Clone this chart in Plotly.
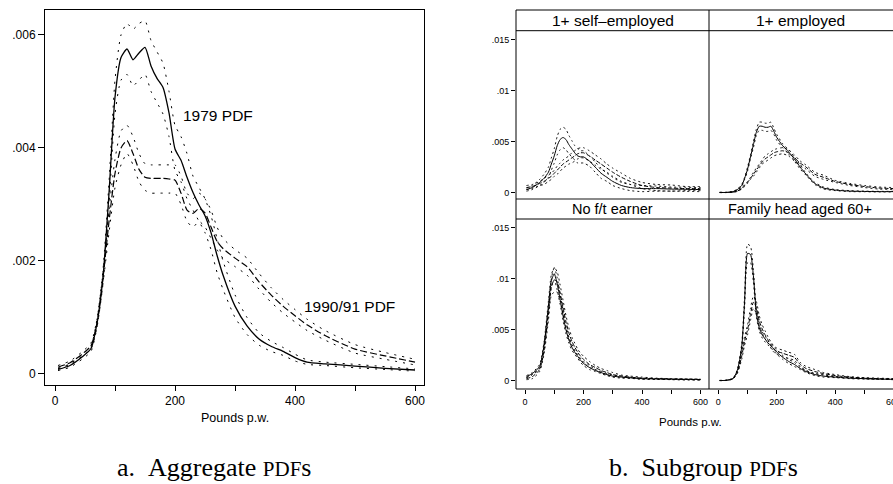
import plotly.graph_objects as go

W, H = 893, 484
def px(x): return x / W
def py(y): return 1 - y / H

# ---------------- a. Aggregate PDFs ----------------
x_agg = [5, 25, 45, 60, 70, 80, 90, 100, 110, 120, 130, 140, 150, 160, 170, 180, 190, 200, 210, 220,
         230, 240, 250, 260, 270, 280, 300, 320, 340, 360, 380, 400, 420, 450, 500, 550, 600]
pdf79 = [0.00008, 0.00015, 0.0003, 0.00045, 0.0009, 0.00172, 0.0032, 0.0049, 0.0056, 0.00575, 0.00556,
         0.00568, 0.00578, 0.00545, 0.00523, 0.00507, 0.00462, 0.00398, 0.00378, 0.00348, 0.00321, 0.00299,
         0.0028, 0.0025, 0.0021, 0.00175, 0.0012, 0.00085, 0.00062, 0.00049, 0.0004, 0.00029, 0.00021,
         0.00018, 0.00014, 0.0001, 0.00007]
pdf79_hi = [0.0001, 0.00018, 0.00034, 0.0005, 0.00097, 0.00185, 0.0034, 0.0052, 0.006, 0.0062, 0.0061,
            0.0062, 0.00625, 0.0059, 0.0057, 0.0055, 0.005, 0.0044, 0.0042, 0.0039, 0.0035, 0.0033, 0.0031,
            0.0028, 0.0024, 0.002, 0.0014, 0.001, 0.00073, 0.00058, 0.00047, 0.00035, 0.00025, 0.00021,
            0.00017, 0.00013, 0.00009]
pdf79_lo = [0.00006, 0.00012, 0.00026, 0.0004, 0.00083, 0.0016, 0.003, 0.0046, 0.0052, 0.0053, 0.0051,
            0.0052, 0.0053, 0.005, 0.0048, 0.0046, 0.0042, 0.0036, 0.0034, 0.0031, 0.0029, 0.0027, 0.0025,
            0.0022, 0.0018, 0.0015, 0.001, 0.0007, 0.00051, 0.0004, 0.00033, 0.00023, 0.00017, 0.00015,
            0.00011, 0.00008, 0.00005]
pdf90 = [0.00012, 0.0002, 0.00035, 0.0005, 0.0009, 0.0017, 0.0027, 0.00355, 0.004, 0.00413, 0.0039,
         0.00362, 0.00348, 0.00346, 0.00346, 0.00346, 0.00345, 0.00343, 0.0032, 0.0029, 0.00284, 0.00293,
         0.00285, 0.0026, 0.00235, 0.00222, 0.00205, 0.0019, 0.00163, 0.0014, 0.0012, 0.00103, 0.00087,
         0.00068, 0.00044, 0.00032, 0.00021]
pdf90_hi = [0.00015, 0.00023, 0.00039, 0.00055, 0.00097, 0.0018, 0.0029, 0.0038, 0.0043, 0.0044, 0.0042,
            0.0039, 0.00372, 0.0037, 0.0037, 0.0037, 0.0037, 0.0037, 0.0035, 0.0032, 0.0031, 0.0032, 0.0031,
            0.0029, 0.0026, 0.0024, 0.0022, 0.00205, 0.00178, 0.00153, 0.00132, 0.00114, 0.00097, 0.00077,
            0.00052, 0.00038, 0.00026]
pdf90_lo = [0.00009, 0.00017, 0.00031, 0.00045, 0.00083, 0.0016, 0.0025, 0.0033, 0.0037, 0.0039, 0.0037,
            0.0034, 0.00325, 0.0032, 0.0032, 0.0032, 0.0032, 0.0032, 0.003, 0.0027, 0.0026, 0.0027, 0.0026,
            0.0024, 0.0022, 0.00205, 0.0019, 0.00175, 0.0015, 0.00127, 0.00108, 0.00092, 0.00077, 0.0006,
            0.00037, 0.00026, 0.00016]

# ---------------- b. Subgroup PDFs ----------------
x_sub = [5, 25, 50, 65, 80, 90, 100, 110, 120, 130, 140, 150, 160, 170, 180, 190, 200, 220, 240, 260,
         280, 300, 330, 360, 400, 450, 500, 550, 600]
# 1+ self-employed
se79 = [0.0003, 0.0005, 0.001, 0.0014, 0.002, 0.0028, 0.0036, 0.0046, 0.0052, 0.0054, 0.0052, 0.0047,
        0.0043, 0.0039, 0.0036, 0.0035, 0.0035, 0.0031, 0.0025, 0.0019, 0.0015, 0.0011, 0.0007, 0.0005,
        0.0004, 0.0004, 0.00035, 0.00033, 0.0003]
se79_band = [0.00015, 0.0002, 0.0003, 0.0004, 0.0005, 0.0006, 0.0007, 0.0009, 0.001, 0.001, 0.001, 0.0009,
             0.0008, 0.0007, 0.0007, 0.0006, 0.0006, 0.0005, 0.0005, 0.0005, 0.0004, 0.0004, 0.0003, 0.0003,
             0.0003, 0.00025, 0.0002, 0.0002, 0.0002]
se90 = [0.0005, 0.0006, 0.0009, 0.0011, 0.0014, 0.0016, 0.0019, 0.0022, 0.0025, 0.0028, 0.003, 0.0032,
        0.0034, 0.0036, 0.0038, 0.0039, 0.0039, 0.0036, 0.0032, 0.0028, 0.0024, 0.002, 0.0015, 0.0011,
        0.0007, 0.0005, 0.00045, 0.0004, 0.0004]
se90_band = [0.0002, 0.0002, 0.0002, 0.0003, 0.0003, 0.0003, 0.0003, 0.0004, 0.0004, 0.0004, 0.0004, 0.0004,
             0.0005, 0.0005, 0.0005, 0.0005, 0.0005, 0.0005, 0.0005, 0.0005, 0.0004, 0.0004, 0.0004, 0.0003,
             0.0003, 0.0003, 0.0003, 0.0002, 0.0002]
# 1+ employed
em79 = [0.00002, 0.00002, 0.0001, 0.0003, 0.0007, 0.0014, 0.0023, 0.0035, 0.0047, 0.0059, 0.0065, 0.0065,
        0.0064, 0.0064, 0.0065, 0.006, 0.0054, 0.0046, 0.004, 0.0033, 0.0025, 0.0018, 0.0009, 0.00045,
        0.00025, 0.00015, 0.00012, 0.0001, 0.0001]
em79_band = [0.00001, 0.00001, 0.00002, 0.00005, 0.0001, 0.0001, 0.0002, 0.0002, 0.0003, 0.0003, 0.0004,
             0.0004, 0.0004, 0.0004, 0.0004, 0.0003, 0.0003, 0.0002, 0.0002, 0.0002, 0.0002, 0.0001, 0.0001,
             0.0001, 0.00005, 0.00005, 0.00003, 0.00003, 0.00003]
em90 = [0.00002, 0.00002, 0.00005, 0.00015, 0.0004, 0.0007, 0.001, 0.0014, 0.0018, 0.0022, 0.0026, 0.003,
        0.0033, 0.0035, 0.0037, 0.0039, 0.004, 0.0041, 0.0039, 0.0034, 0.0029, 0.0025, 0.0018, 0.0015,
        0.0011, 0.0008, 0.0006, 0.00045, 0.0004]
em90_band = [0.00001, 0.00001, 0.00002, 0.00003, 0.00005, 0.0001, 0.0001, 0.0001, 0.0002, 0.0002, 0.0002,
             0.0002, 0.0003, 0.0003, 0.0003, 0.0003, 0.0003, 0.0003, 0.0003, 0.0003, 0.0002, 0.0002, 0.0002,
             0.0002, 0.0001, 0.0001, 0.0001, 0.0001, 0.0001]
# No f/t earner
nf79 = [0.0004, 0.0007, 0.0014, 0.0035, 0.0073, 0.0098, 0.0105, 0.0095, 0.008, 0.0064, 0.005, 0.004,
        0.0033, 0.0028, 0.0024, 0.002, 0.0017, 0.0013, 0.001, 0.0008, 0.0006, 0.00045, 0.00035, 0.00028,
        0.0002, 0.00017, 0.00015, 0.00014, 0.00012]
nf79_band = [0.0001, 0.0001, 0.0002, 0.0003, 0.0005, 0.0006, 0.0006, 0.0006, 0.0005, 0.0005, 0.0004, 0.0003,
             0.0003, 0.0002, 0.0002, 0.0002, 0.0002, 0.0002, 0.0001, 0.0001, 0.0001, 0.0001, 0.0001, 0.00005,
             0.00005, 0.00005, 0.00003, 0.00003, 0.00003]
nf90 = [0.0002, 0.0004, 0.0011, 0.003, 0.0065, 0.0092, 0.0099, 0.0097, 0.0086, 0.0072, 0.0058, 0.0047,
        0.0039, 0.0033, 0.0028, 0.0024, 0.0021, 0.0016, 0.0013, 0.001, 0.0008, 0.0006, 0.00045, 0.00035,
        0.00025, 0.0002, 0.00015, 0.00012, 0.0001]
nf90_band = [0.0001, 0.0002, 0.0002, 0.0004, 0.0006, 0.0008, 0.0012, 0.001, 0.0008, 0.0007, 0.0006, 0.0005,
             0.0004, 0.0004, 0.0003, 0.0003, 0.0003, 0.0003, 0.0002, 0.0002, 0.0002, 0.0002, 0.0001, 0.0001,
             0.0001, 0.00005, 0.00005, 0.00005, 0.00005]
# Family head aged 60+
fh79 = [0.00002, 0.00003, 0.0002, 0.001, 0.0033, 0.0078, 0.0125, 0.0124, 0.0103, 0.0067, 0.0052, 0.0045,
        0.0041, 0.0037, 0.0034, 0.0031, 0.0028, 0.0023, 0.0019, 0.0016, 0.0012, 0.0009, 0.0006, 0.00045,
        0.00035, 0.00025, 0.0002, 0.00016, 0.00014]
fh79_band = [0.00001, 0.00001, 0.00003, 0.0001, 0.0003, 0.0006, 0.0009, 0.0008, 0.0006, 0.0004, 0.0003,
             0.0003, 0.0003, 0.0002, 0.0002, 0.0002, 0.0002, 0.0002, 0.0002, 0.0002, 0.0001, 0.0001, 0.0001,
             0.0001, 0.00005, 0.00005, 0.00005, 0.00003, 0.00003]
fh90 = [0.00002, 0.00003, 0.0002, 0.0008, 0.0024, 0.0039, 0.005, 0.0065, 0.0077, 0.0072, 0.0059, 0.0051,
        0.0045, 0.004, 0.0035, 0.0031, 0.0029, 0.0027, 0.0025, 0.0023, 0.0016, 0.0012, 0.0009, 0.0007,
        0.0005, 0.00035, 0.00025, 0.0002, 0.00015]
fh90_band = [0.00001, 0.00001, 0.00003, 0.0001, 0.0003, 0.0004, 0.0005, 0.0006, 0.0006, 0.0006, 0.0005,
             0.0004, 0.0004, 0.0003, 0.0003, 0.0003, 0.0003, 0.0003, 0.0003, 0.0003, 0.0002, 0.0002, 0.0002,
             0.0001, 0.0001, 0.00005, 0.00005, 0.00005, 0.00005]

panel_titles = ["1+ self\u2013employed", "1+ employed", "No f/t earner", "Family head aged 60+"]
x_ticks = [0, 100, 200, 300, 400, 500, 600]
x_ticktext = ["0", "", "200", "", "400", "", "600"]
agg_yticks = [0, 0.002, 0.004, 0.006]
agg_yticktext = ["0", ".002", ".004", ".006"]
sub_yticks = [0, 0.005, 0.01, 0.015]
sub_yticktext = ["0", ".005", ".01", ".015"]

SANS = "Liberation Sans, Arial, Helvetica, sans-serif"
SERIF = "Liberation Serif, Times New Roman, serif"

fig = go.Figure()

def line(x, y, xa, ya, dash, width):
    fig.add_trace(go.Scatter(x=x, y=y, xaxis=xa, yaxis=ya, mode="lines",
                             line=dict(color="black", width=width, dash=dash, shape="spline", smoothing=0.6),
                             hoverinfo="skip", showlegend=False))

# left panel
line(x_agg, pdf79_hi, "x", "y", "2px,6px", 1)
line(x_agg, pdf79_lo, "x", "y", "2px,6px", 1)
line(x_agg, pdf90_hi, "x", "y", "2px,6px", 1)
line(x_agg, pdf90_lo, "x", "y", "2px,6px", 1)
line(x_agg, pdf90, "x", "y", "7px,3px", 1.2)
line(x_agg, pdf79, "x", "y", "solid", 1.3)

# subgroup panels
groups = [(se79, se79_band, se90, se90_band), (em79, em79_band, em90, em90_band),
          (nf79, nf79_band, nf90, nf90_band), (fh79, fh79_band, fh90, fh90_band)]
for i, (c79, b79, c90, b90) in enumerate(groups):
    xa, ya = "x%d" % (i + 2), "y%d" % (i + 2)
    for c, b in ((c79, b79), (c90, b90)):
        line(x_sub, [v + e for v, e in zip(c, b)], xa, ya, "2px,3px", 0.9)
        line(x_sub, [max(v - e, 0) for v, e in zip(c, b)], xa, ya, "2px,3px", 0.9)
    line(x_sub, c90, xa, ya, "4px,2px", 1)
    line(x_sub, c79, xa, ya, "solid", 1)

tickfont_l = dict(family=SANS, size=12, color="black")
tickfont_s = dict(family=SANS, size=9, color="black")

# geometry (pixels)
L_X0, L_X1, L_Y0, L_Y1 = 45, 424, 10, 385
R_X0, R_XM, R_X1 = 516, 709, 893
R_TOP, STRIP1_B, MID, STRIP2_B, R_BOT = 10, 30.7, 199, 219, 389

left_xrange = [-16.7, 615]
left_yrange = [-0.000195, 0.00644]
colL_xrange = [-30.8, 629]
colR_xrange = [-31.8, 597.3]
top_yrange = [-0.00062, 0.01585]
bot_yrange = [-0.000815, 0.01588]

common = dict(showgrid=False, zeroline=False, fixedrange=True)
layout = dict(
    width=W, height=H, margin=dict(l=0, r=0, t=0, b=0), autosize=False,
    paper_bgcolor="white", plot_bgcolor="white", showlegend=False,
    xaxis=dict(domain=[px(L_X0), px(L_X1)], range=left_xrange, anchor="y", showline=True, mirror=True,
               linecolor="black", linewidth=1, ticks="outside", ticklen=5, tickcolor="black",
               tickvals=x_ticks, ticktext=x_ticktext, tickfont=tickfont_l, **common),
    yaxis=dict(domain=[py(L_Y1), py(L_Y0)], range=left_yrange, anchor="x", showline=True, mirror=True,
               linecolor="black", linewidth=1, ticks="outside", ticklen=6, tickcolor="black",
               tickvals=agg_yticks, ticktext=agg_yticktext, tickfont=tickfont_l, **common),
)
cols = [(R_X0, R_XM, colL_xrange), (R_XM, R_X1, colR_xrange)]
rows = [(STRIP1_B, MID, top_yrange), (STRIP2_B, R_BOT, bot_yrange)]
for i in range(4):
    r, c = divmod(i, 2)
    x0, x1, xr = cols[c]
    y0, y1, yr = rows[r]
    n = i + 2
    xa = dict(domain=[px(x0), min(px(x1), 1.0)], range=xr, anchor="y%d" % n, showline=False,
              **common)
    if r == 1:
        xa.update(ticks="outside", ticklen=4, tickcolor="black", tickvals=x_ticks,
                  ticktext=x_ticktext, tickfont=tickfont_s)
    else:
        xa.update(ticks="", showticklabels=False)
    ya = dict(domain=[py(y1), py(y0)], range=yr, anchor="x%d" % n, showline=False, **common)
    if c == 0:
        ya.update(ticks="outside", ticklen=4, tickcolor="black", tickvals=sub_yticks,
                  ticktext=sub_yticktext, tickfont=tickfont_s)
    else:
        ya.update(ticks="", showticklabels=False)
    layout["xaxis%d" % n] = xa
    layout["yaxis%d" % n] = ya
fig.update_layout(**layout)

# frames for subgroup panel
def hline(y, x0, x1, color="black", width=1):
    fig.add_shape(type="line", xref="paper", yref="paper", x0=px(x0), x1=px(x1), y0=py(y), y1=py(y),
                  line=dict(color=color, width=width))
def vline(x, y0, y1, color="black", width=1):
    fig.add_shape(type="line", xref="paper", yref="paper", x0=px(x), x1=px(x), y0=py(y0), y1=py(y1),
                  line=dict(color=color, width=width))

hline(R_TOP, R_X0, R_X1 + 5)
hline(STRIP1_B, R_X0, R_X1 + 5)
hline(MID, R_X0, R_X1 + 5, color="#8a8a8a", width=2)
hline(STRIP2_B, R_X0, R_X1 + 5)
hline(R_BOT, R_X0, R_X1 + 5)
vline(R_X0, R_TOP, R_BOT)
vline(R_XM, R_TOP, R_BOT)

# strip titles
strip_cx = [(R_X0 + R_XM) / 2, 800]
strip_cy = [(R_TOP + STRIP1_B) / 2, (MID + STRIP2_B) / 2]
strip_size = [15.5, 14.5]
ann = []
for i, t in enumerate(panel_titles):
    r, c = divmod(i, 2)
    ann.append(dict(text=t, x=px(strip_cx[c]), y=py(strip_cy[r]), xref="paper", yref="paper",
                    showarrow=False, xanchor="center", yanchor="middle",
                    font=dict(family=SANS, size=strip_size[r], color="black")))

# '600' tick label of the clipped bottom-right panel, placed through its axis scale
dom = layout["xaxis5"]["domain"]
frac = (600 - colR_xrange[0]) / (colR_xrange[1] - colR_xrange[0])
ann.append(dict(text="600", x=dom[0] + frac * (dom[1] - dom[0]), y=py(401.5), xref="paper", yref="paper",
                showarrow=False, xanchor="center", yanchor="middle", font=tickfont_s))

# curve labels
ann.append(dict(text="1979 PDF", x=271, y=0.00457, xref="x", yref="y", showarrow=False,
                xanchor="center", yanchor="middle", font=dict(family=SANS, size=15.5, color="black")))
ann.append(dict(text="1990/91 PDF", x=490, y=0.0012, xref="x", yref="y", showarrow=False,
                xanchor="center", yanchor="middle", font=dict(family=SANS, size=15.5, color="black")))
# axis titles
ann.append(dict(text="Pounds p.w.", x=px(235), y=py(418), xref="paper", yref="paper", showarrow=False,
                xanchor="center", yanchor="middle", font=dict(family=SANS, size=12.5, color="black")))
ann.append(dict(text="Pounds p.w.", x=px(690), y=py(421.5), xref="paper", yref="paper", showarrow=False,
                xanchor="center", yanchor="middle", font=dict(family=SANS, size=11.5, color="black")))
# captions
ann.append(dict(text='a.&nbsp;&nbsp;Aggregate <span style="font-size:21px">PDF</span>s', x=px(214), y=py(484),
                xref="paper", yref="paper", showarrow=False, xanchor="center", yanchor="bottom",
                font=dict(family=SERIF, size=26, color="black")))
ann.append(dict(text='b.&nbsp;&nbsp;Subgroup <span style="font-size:21px">PDF</span>s', x=px(703), y=py(484),
                xref="paper", yref="paper", showarrow=False, xanchor="center", yanchor="bottom",
                font=dict(family=SERIF, size=26, color="black")))
fig.update_layout(annotations=ann)

fig.write_html("out.html", config={"displayModeBar": False},
               post_script="document.body.style.margin='0';document.body.style.overflow='hidden';")
